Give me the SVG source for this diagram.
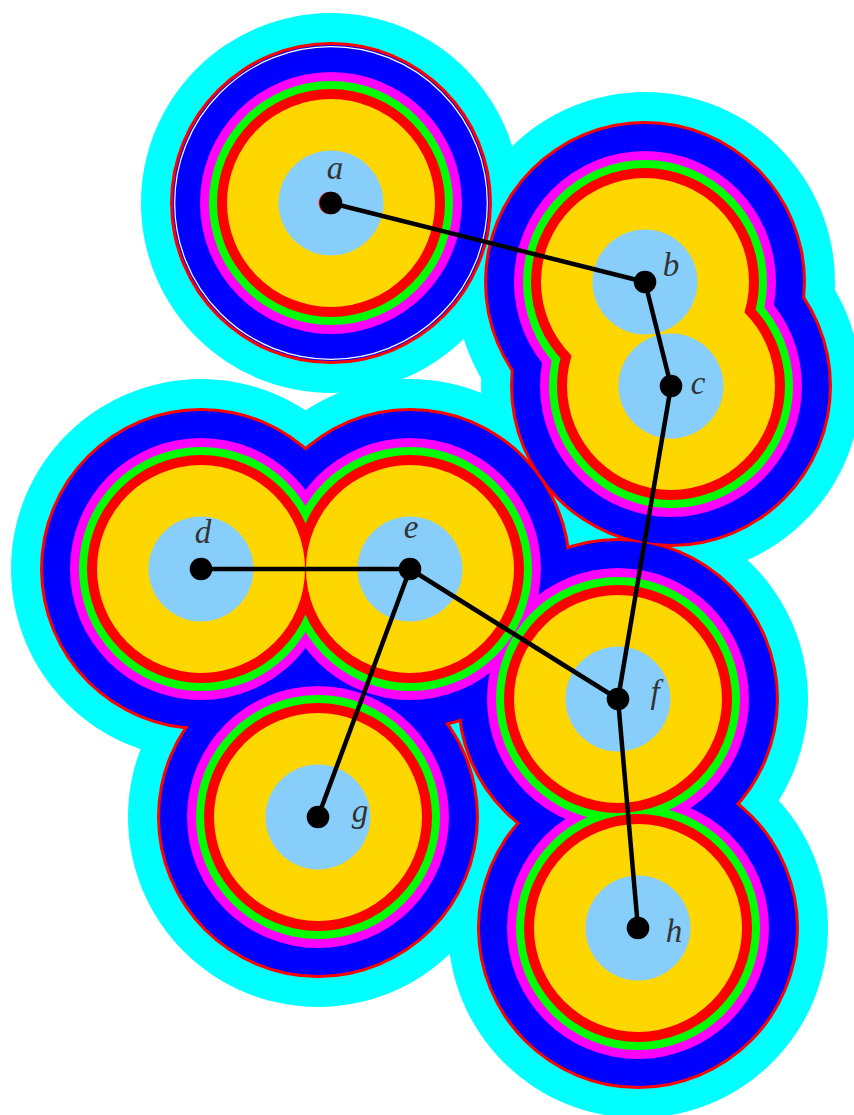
<svg xmlns="http://www.w3.org/2000/svg" width="854" height="1115" viewBox="0 0 854 1115">
<style>
.cy{fill:#00FFFF}.ro{fill:#FF0000}.bl{fill:#0000FF}.mg{fill:#FF00FF}.gr{fill:#00FF00}.rd{fill:#FF0000}.go{fill:#FFD700}.lb{fill:#87CEFA}
.dot{fill:#000}
.edge{stroke:#000;stroke-width:4.5;fill:none;stroke-linecap:butt}
.lbl{font-family:"Liberation Serif","DejaVu Serif",serif;font-style:italic;font-size:33px;fill:#333}
</style>
<defs>
<circle id="c190" r="190"/><circle id="c161" r="161"/><circle id="c158" r="158"/><circle id="c131" r="131"/><circle id="c122" r="122"/><circle id="c114" r="114"/><circle id="c104" r="104"/><circle id="c52" r="52.5"/>
</defs>
<g id="layer-cyan" class="cy">
<use href="#c190" x="331" y="203"/><use href="#c190" x="645" y="282"/><use href="#c190" x="671" y="386"/><use href="#c190" x="201" y="569"/><use href="#c190" x="410" y="569"/><use href="#c190" x="618" y="699"/><use href="#c190" x="318" y="817"/><use href="#c190" x="638" y="928"/>
</g>
<g id="layer-outline" class="ro">
<use href="#c161" x="331" y="203"/><use href="#c161" x="645" y="282"/><use href="#c161" x="671" y="386"/><use href="#c161" x="201" y="569"/><use href="#c161" x="410" y="569"/><use href="#c161" x="618" y="699"/><use href="#c161" x="318" y="817"/><use href="#c161" x="638" y="928"/>
</g>
<g id="layer-blue" class="bl">
<use href="#c158" x="331" y="203"/><use href="#c158" x="645" y="282"/><use href="#c158" x="671" y="386"/><use href="#c158" x="201" y="569"/><use href="#c158" x="410" y="569"/><use href="#c158" x="618" y="699"/><use href="#c158" x="318" y="817"/><use href="#c158" x="638" y="928"/>
</g>
<circle cx="331" cy="203" r="156.3" fill="none" stroke="#FFFFFF" stroke-width="1.2"/>
<g id="layer-magenta" class="mg">
<use href="#c131" x="331" y="203"/><use href="#c131" x="645" y="282"/><use href="#c131" x="671" y="386"/><use href="#c131" x="201" y="569"/><use href="#c131" x="410" y="569"/><use href="#c131" x="618" y="699"/><use href="#c131" x="318" y="817"/><use href="#c131" x="638" y="928"/>
</g>
<g id="layer-green" class="gr">
<use href="#c122" x="331" y="203"/><use href="#c122" x="645" y="282"/><use href="#c122" x="671" y="386"/><use href="#c122" x="201" y="569"/><use href="#c122" x="410" y="569"/><use href="#c122" x="618" y="699"/><use href="#c122" x="318" y="817"/><use href="#c122" x="638" y="928"/>
</g>
<g id="layer-red" class="rd">
<use href="#c114" x="331" y="203"/><use href="#c114" x="645" y="282"/><use href="#c114" x="671" y="386"/><use href="#c114" x="201" y="569"/><use href="#c114" x="410" y="569"/><use href="#c114" x="618" y="699"/><use href="#c114" x="318" y="817"/><use href="#c114" x="638" y="928"/>
</g>
<g id="layer-gold" class="go">
<use href="#c104" x="331" y="203"/><use href="#c104" x="645" y="282"/><use href="#c104" x="671" y="386"/><use href="#c104" x="201" y="569"/><use href="#c104" x="410" y="569"/><use href="#c104" x="618" y="699"/><use href="#c104" x="318" y="817"/><use href="#c104" x="638" y="928"/>
</g>
<g id="layer-core" class="lb">
<use href="#c52" x="331" y="203"/><use href="#c52" x="645" y="282"/><use href="#c52" x="671" y="386"/><use href="#c52" x="201" y="569"/><use href="#c52" x="410" y="569"/><use href="#c52" x="618" y="699"/><use href="#c52" x="318" y="817"/><use href="#c52" x="638" y="928"/>
</g>
<g id="connectors" class="edge">
<line x1="331" y1="203" x2="645" y2="282"/>
<line x1="645" y1="282" x2="671" y2="386"/>
<line x1="671" y1="386" x2="618" y2="699"/>
<line x1="201" y1="569" x2="410" y2="569"/>
<line x1="410" y1="569" x2="618" y2="699"/>
<line x1="410" y1="569" x2="318" y2="817"/>
<line x1="618" y1="699" x2="638" y2="928"/>
</g>
<g id="node-a"><circle cx="330" cy="203" r="11.3" fill="#FF0000"/><circle class="dot" cx="331" cy="203" r="11.3"/><text class="lbl" x="335" y="179" text-anchor="middle">a</text></g>
<g id="node-b"><circle class="dot" cx="645" cy="282" r="11.3"/><text class="lbl" x="671" y="276" text-anchor="middle">b</text></g>
<g id="node-c"><circle class="dot" cx="671" cy="386" r="11.3"/><text class="lbl" x="698" y="394" text-anchor="middle">c</text></g>
<g id="node-d"><circle class="dot" cx="201" cy="569" r="11.3"/><text class="lbl" x="203" y="543" text-anchor="middle">d</text></g>
<g id="node-e"><circle class="dot" cx="410" cy="569" r="11.3"/><text class="lbl" x="411" y="538" text-anchor="middle">e</text></g>
<g id="node-f"><circle class="dot" cx="618" cy="699" r="11.3"/><text class="lbl" x="655" y="703" text-anchor="middle">f</text></g>
<g id="node-g"><circle class="dot" cx="318" cy="817" r="11.3"/><text class="lbl" x="360" y="822" text-anchor="middle">g</text></g>
<g id="node-h"><circle class="dot" cx="638" cy="928" r="11.3"/><text class="lbl" x="674" y="942" text-anchor="middle">h</text></g>
</svg>
